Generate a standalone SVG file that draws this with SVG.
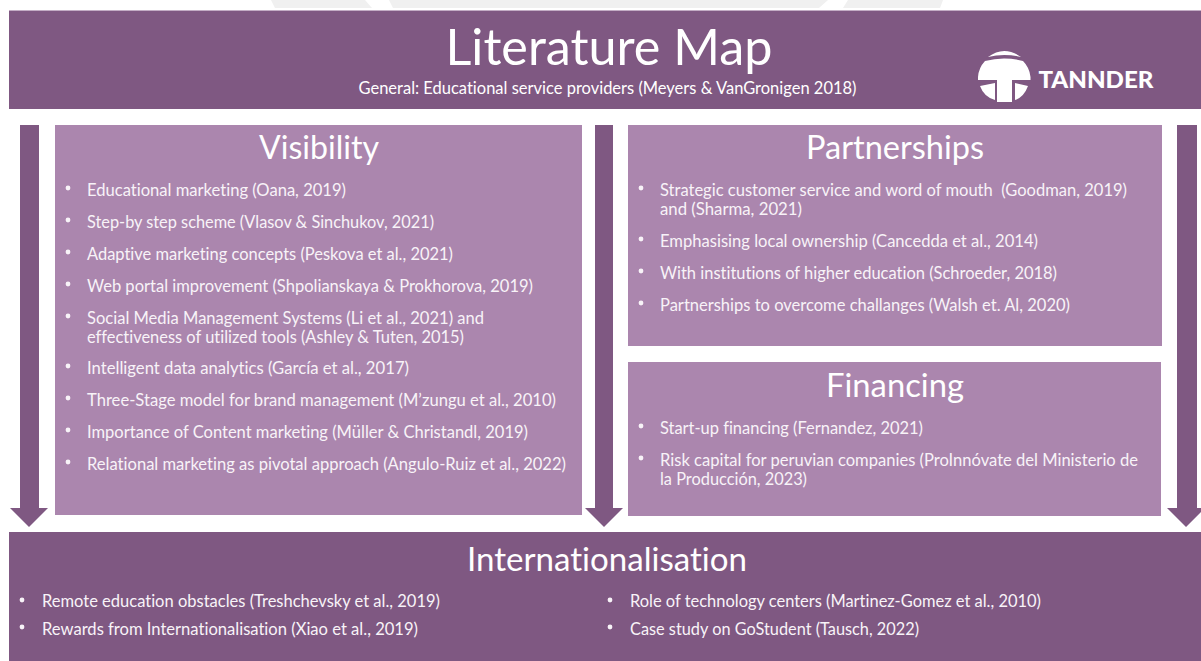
<svg xmlns="http://www.w3.org/2000/svg" width="1201" height="661" viewBox="0 0 1201 661">
<defs><style>
text{font-family:"Lato","Carlito","Open Sans",sans-serif;fill:#fff;font-variant-ligatures:none}
.dark{fill:#7f5882}
.light{fill:#ab86ae}
.h{font-size:33px;text-anchor:middle}
.b{font-size:16.8px;fill:#f8f3f8}
.b text{fill:#f8f3f8}
.d{fill:#f8f3f8}
</style></defs>
<g id="background"><path d="M271 0H365L372 8H275Z M389 0H828L819 8H393Z M848 0H943L940 8H843Z" fill="#f0f0f0"/></g>
<g id="header"><rect class="dark" x="9" y="10.500" width="1192" height="98.500" stroke="#c8b4ca" stroke-width="0"/>
<rect x="9" y="10" width="1192" height="1" fill="#c3adc5"/>
<text x="609" y="65" text-anchor="middle" font-size="51" textLength="327" lengthAdjust="spacingAndGlyphs">Literature Map</text>
<text x="358.500" y="94" font-size="16.800" textLength="498" lengthAdjust="spacingAndGlyphs">General: Educational service providers (Meyers &amp; VanGronigen 2018)</text>
<g id="logo"><path fill="#fff" d="M988 57Q1004 45 1021 57Q1004 53 988 57Z"/>
<path fill="#fff" d="M985 61Q1004 56 1023 61A26 26 0 0 1 1030.500 77V80H1012V102H997V80H978V77A26 26 0 0 1 985 61Z"/>
<path fill="#fff" d="M980 86L995 83V100Q984 97 980 86ZM1028 86L1015 83V100Q1024 97 1028 86Z"/>
<text x="1038.500" y="88" font-size="23" font-weight="900" textLength="115" lengthAdjust="spacingAndGlyphs">TANNDER</text></g></g>
<g id="connectors" class="dark">
<path d="M20 125H39V508H48L29 527L10 508H20Z"/>
<path d="M595 125H613V508H623L604 527L585 508H595Z"/>
<path d="M1177 125H1197V508H1205L1186 527L1167 508H1177Z"/>
</g>
<g id="visibility"><rect class="light" x="55" y="125" width="527" height="390"/>
<text class="h" x="319" y="159" textLength="120" lengthAdjust="spacingAndGlyphs">Visibility</text>
<g class="b" transform="translate(0 .6)">
<text x="87" y="195" textLength="259" lengthAdjust="spacingAndGlyphs">Educational marketing (Oana, 2019)</text>
<text x="87" y="227" textLength="347" lengthAdjust="spacingAndGlyphs">Step-by step scheme (Vlasov &amp; Sinchukov, 2021)</text>
<text x="87" y="259" textLength="366" lengthAdjust="spacingAndGlyphs">Adaptive marketing concepts (Peskova et al., 2021)</text>
<text x="87" y="291" textLength="446" lengthAdjust="spacingAndGlyphs">Web portal improvement (Shpolianskaya &amp; Prokhorova, 2019)</text>
<text x="87" y="323" textLength="397" lengthAdjust="spacingAndGlyphs">Social Media Management Systems (Li et al., 2021) and</text>
<text x="87" y="342" textLength="377" lengthAdjust="spacingAndGlyphs">effectiveness of utilized tools (Ashley &amp; Tuten, 2015)</text>
<text x="87" y="373" textLength="322" lengthAdjust="spacingAndGlyphs">Intelligent data analytics (García et al., 2017)</text>
<text x="87" y="405" textLength="469" lengthAdjust="spacingAndGlyphs">Three-Stage model for brand management (M’zungu et al., 2010)</text>
<text x="87" y="437" textLength="441" lengthAdjust="spacingAndGlyphs">Importance of Content marketing (Müller &amp; Christandl, 2019)</text>
<text x="87" y="469" textLength="479" lengthAdjust="spacingAndGlyphs">Relational marketing as pivotal approach (Angulo-Ruiz et al., 2022)</text>
</g>
<g class="d"><circle cx="68" cy="188" r="2.400"/><circle cx="68" cy="220" r="2.400"/><circle cx="68" cy="252" r="2.400"/><circle cx="68" cy="284" r="2.400"/><circle cx="68" cy="316" r="2.400"/><circle cx="68" cy="366" r="2.400"/><circle cx="68" cy="398" r="2.400"/><circle cx="68" cy="430" r="2.400"/><circle cx="68" cy="462" r="2.400"/></g></g>
<g id="partnerships"><rect class="light" x="628" y="125" width="534" height="221"/>
<text class="h" x="895" y="159" textLength="178" lengthAdjust="spacingAndGlyphs">Partnerships</text>
<g class="b" transform="translate(0 .6)">
<text x="660" y="195" textLength="467" lengthAdjust="spacingAndGlyphs" xml:space="preserve">Strategic customer service and word of mouth  (Goodman, 2019)</text>
<text x="660" y="214.500" textLength="142" lengthAdjust="spacingAndGlyphs">and (Sharma, 2021)</text>
<text x="660" y="246" textLength="378" lengthAdjust="spacingAndGlyphs">Emphasising local ownership (Cancedda et al., 2014)</text>
<text x="660" y="278" textLength="397" lengthAdjust="spacingAndGlyphs">With institutions of higher education (Schroeder, 2018)</text>
<text x="660" y="310" textLength="410" lengthAdjust="spacingAndGlyphs">Partnerships to overcome challanges (Walsh et. Al, 2020)</text>
</g>
<g class="d"><circle cx="641" cy="188" r="2.400"/><circle cx="641" cy="239" r="2.400"/><circle cx="641" cy="271" r="2.400"/><circle cx="641" cy="303" r="2.400"/></g></g>
<g id="financing"><rect class="light" x="628" y="362" width="533" height="154"/>
<text class="h" x="895" y="397" textLength="138" lengthAdjust="spacingAndGlyphs">Financing</text>
<g class="b" transform="translate(0 .6)">
<text x="660" y="433" textLength="263" lengthAdjust="spacingAndGlyphs">Start-up financing (Fernandez, 2021)</text>
<text x="660" y="465" textLength="478" lengthAdjust="spacingAndGlyphs">Risk capital for peruvian companies (ProInnóvate del Ministerio de</text>
<text x="660" y="484" textLength="147" lengthAdjust="spacingAndGlyphs">la Producción, 2023)</text>
</g>
<g class="d"><circle cx="641" cy="426" r="2.400"/><circle cx="641" cy="458" r="2.400"/></g></g>
<g id="internationalisation"><rect class="dark" x="9" y="532" width="1192" height="129"/>
<text class="h" x="607" y="571" textLength="280" lengthAdjust="spacingAndGlyphs">Internationalisation</text>
<g class="b" transform="translate(0 .6)">
<text x="42" y="606" textLength="398" lengthAdjust="spacingAndGlyphs">Remote education obstacles (Treshchevsky et al., 2019)</text>
<text x="42" y="634" textLength="376" lengthAdjust="spacingAndGlyphs">Rewards from Internationalisation (Xiao et al., 2019)</text>
<text x="630" y="606" textLength="411" lengthAdjust="spacingAndGlyphs">Role of technology centers (Martinez-Gomez et al., 2010)</text>
<text x="630" y="634" textLength="289" lengthAdjust="spacingAndGlyphs">Case study on GoStudent (Tausch, 2022)</text>
</g>
<g class="d"><circle cx="22" cy="600" r="2.400"/><circle cx="22" cy="627" r="2.400"/><circle cx="610" cy="600" r="2.400"/><circle cx="610" cy="627" r="2.400"/></g></g>
</svg>
